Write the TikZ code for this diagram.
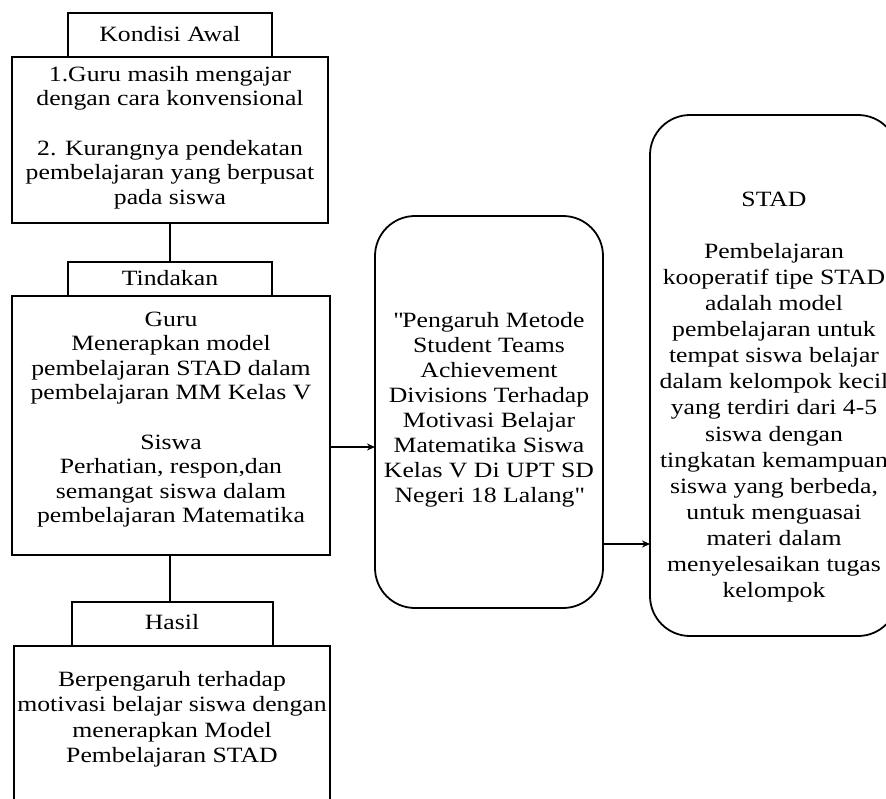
\documentclass[tikz,border=0pt]{standalone}
\usepackage{fontspec}
\setmainfont{Liberation Serif}[FakeStretch=1.18]
\usetikzlibrary{arrows.meta}
\tikzset{
  box/.style={draw=black, line width=1.8pt, fill=white},
  txt/.style={align=center, inner sep=0pt, font=\fontsize{21.8}{24.6}\selectfont},
  rbox/.style={draw=black, line width=1.8pt, rounded corners=40pt},
  conn/.style={draw=black, line width=1.8pt},
  arr/.style={draw=black, line width=1.6pt, -{Stealth[length=8pt,width=7pt]}}
}
\begin{document}
\begin{tikzpicture}[x=1pt,y=-1pt]
\useasboundingbox (0,0) rectangle (886,798);
\clip (0,0) rectangle (886,798);
\fill[white] (0,0) rectangle (886,798);
% left column
\draw[box] (68,13) rectangle (272,57);
\node[txt] (ktitle) at (170,34) {Kondisi Awal};
\draw[box] (12,57) rectangle (328,223);
\node[txt] (ktext) at (170,137.5) {1.Guru masih mengajar\\dengan cara konvensional\\[24.6pt]2. Kurangnya pendekatan\\pembelajaran yang berpusat\\pada siswa};
\coordinate (kbot) at (170,223);
\coordinate (ttop) at (170,262);
\draw[conn] (kbot) -- (ttop);
\draw[box] (68,262) rectangle (272,296);
\node[txt] (ttitle) at (170,278) {Tindakan};
\draw[box] (12,296) rectangle (330,555);
\node[txt] (ttext) at (171,419.5) {Guru\\Menerapkan model\\pembelajaran STAD dalam\\pembelajaran MM Kelas V\\[24.6pt]Siswa\\Perhatian, respon,dan\\semangat siswa dalam\\pembelajaran Matematika};
\coordinate (tbot) at (170,555);
\coordinate (htop) at (170,602);
\draw[conn] (tbot) -- (htop);
\draw[box] (72,602) rectangle (273,646);
\node[txt] (htitle) at (172,622) {Hasil};
\draw[box] (14,646) rectangle (330,830);
\node[txt, font=\fontsize{21.8}{25.5}\selectfont] (htext) at (172,719) {Berpengaruh terhadap\\motivasi belajar siswa dengan\\menerapkan Model\\Pembelajaran STAD};
% middle
\draw[rbox] (375,216) rectangle (603,608);
\node[txt, font=\fontsize{21.8}{25}\selectfont] (mtext) at (489,409.5) {\textquotedbl Pengaruh Metode\\Student Teams\\Achievement\\Divisions Terhadap\\Motivasi Belajar\\Matematika Siswa\\Kelas V Di UPT SD\\Negeri 18 Lalang\textquotedbl};
\coordinate (tout) at (330,447);
\coordinate (min) at (375,447);
\draw[arr] (tout) -- (min);
% right
\draw[rbox] (650,115) rectangle (898,636);
\node[txt, font=\fontsize{21.8}{26.1}\selectfont] (stext) at (774,397) {STAD\\[26.1pt]Pembelajaran\\kooperatif tipe STAD\\adalah model\\pembelajaran untuk\\tempat siswa belajar\\dalam kelompok kecil\\yang terdiri dari 4-5\\siswa dengan\\tingkatan kemampuan\\siswa yang berbeda,\\untuk menguasai\\materi dalam\\menyelesaikan tugas\\kelompok};
\coordinate (mout) at (603,544);
\coordinate (sin) at (650,544);
\draw[arr] (mout) -- (sin);
\end{tikzpicture}
\end{document}
